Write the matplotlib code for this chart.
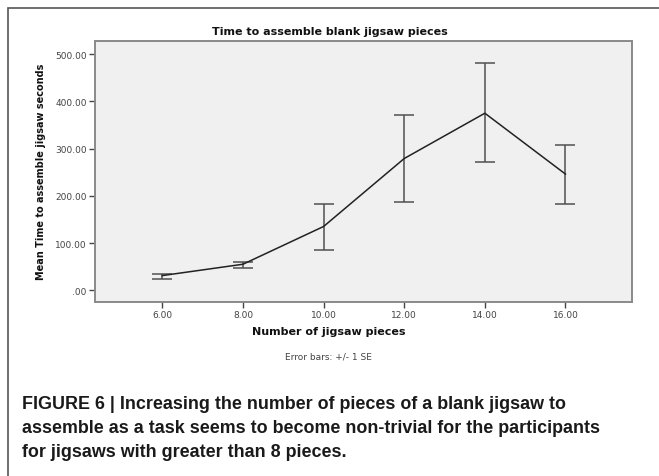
import matplotlib
matplotlib.use("Agg")
import matplotlib.pyplot as plt
from matplotlib.patches import Rectangle

# values
pieces = [6, 8, 10, 12, 14, 16]
mean_time = [31, 55, 135, 279, 375, 246]
se_low = [23, 48, 86, 186, 271, 183]
se_high = [35, 59, 183, 372, 482, 308]
y_ticks = [0, 100, 200, 300, 400, 500]
y_labels = [".00", "100.00", "200.00", "300.00", "400.00", "500.00"]
x_labels = ["6.00", "8.00", "10.00", "12.00", "14.00", "16.00"]

caption = ("FIGURE 6 | Increasing the number of pieces of a blank jigsaw to\n"
           "assemble as a task seems to become non-trivial for the participants\n"
           "for jigsaws with greater than 8 pieces.")

W, H = 659, 477
fig = plt.figure(figsize=(W / 100, H / 100), dpi=100)
fig.patch.set_facecolor("white")

# outer frame of the figure panel
fig.patches.append(Rectangle((8 / W, -0.1), 1.0, 1 - 9 / H + 0.1,
                             transform=fig.transFigure, fill=False,
                             edgecolor="#555555", linewidth=1.2))

ax = fig.add_axes([95 / W, 1 - 303 / H, (632 - 95) / W, (303 - 42) / H])
ax.set_facecolor("#f0f0f0")
for s in ax.spines.values():
    s.set_color("#8a8a8a")
    s.set_linewidth(1.4)

ax.plot(pieces, mean_time, color="#222222", linewidth=1.1, zorder=3)
yerr = [[m - l for m, l in zip(mean_time, se_low)],
        [h - m for m, h in zip(mean_time, se_high)]]
ax.errorbar(pieces, mean_time, yerr=yerr, fmt="none", ecolor="#505050",
            elinewidth=1.1, capsize=7, capthick=1.1, zorder=2)

ax.set_xlim(4.33, 17.65)
ax.set_ylim(-25, 528)
ax.set_xticks(pieces)
ax.set_xticklabels(x_labels)
ax.set_yticks(y_ticks)
ax.set_yticklabels(y_labels)
ax.tick_params(axis="both", colors="#444444", labelsize=6.5, length=4, width=1,
               pad=2)

fig.text(330 / W, 1 - 32 / H, "Time to assemble blank jigsaw pieces",
         ha="center", va="center", fontsize=8, fontweight="bold", color="#111111")
fig.text(41 / W, 1 - 172 / H, "Mean Time to assemble jigsaw seconds",
         ha="center", va="center", rotation=90, fontsize=7, fontweight="bold",
         color="#111111")
fig.text(329 / W, 1 - 332 / H, "Number of jigsaw pieces",
         ha="center", va="center", fontsize=8, fontweight="bold", color="#111111")
fig.text(328 / W, 1 - 357 / H, "Error bars: +/- 1 SE",
         ha="center", va="center", fontsize=6.5, color="#444444")

fig.text(22 / W, 1 - 396 / H, caption, ha="left", va="top", fontsize=12.9,
         fontweight="bold", color="#1a1a1a", linespacing=1.54,
         family=["Liberation Sans", "DejaVu Sans"])

fig.savefig("out.png", dpi=100)
